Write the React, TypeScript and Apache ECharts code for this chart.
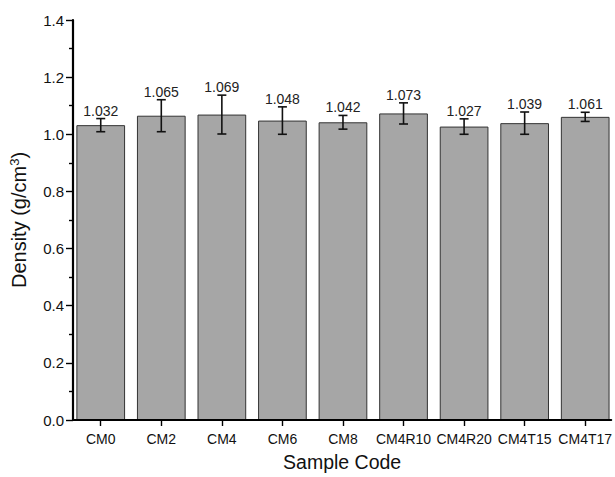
import React, { useEffect, useRef } from "react";
import * as echarts from "echarts";

const categories = ["CM0", "CM2", "CM4", "CM6", "CM8", "CM4R10", "CM4R20", "CM4T15", "CM4T17"];
const densities = [1.032, 1.065, 1.069, 1.048, 1.042, 1.073, 1.027, 1.039, 1.061];
const errors = [0.023, 0.056, 0.068, 0.048, 0.024, 0.037, 0.027, 0.039, 0.016];
const yTicks = [0, 0.2, 0.4, 0.6, 0.8, 1.0, 1.2, 1.4];

const FONT = "Liberation Sans, Arial, Helvetica, sans-serif";

export default function App() {
  const ref = useRef<HTMLDivElement>(null);
  useEffect(() => {
    if (!ref.current) return;
    const chart = echarts.init(ref.current, null, { renderer: "svg" });
    const idx = categories.map((_, i) => i);
    chart.setOption({
      animation: false,
      backgroundColor: "#ffffff",
      grid: { left: 72, right: 0, top: 20, bottom: 54.3, containLabel: false },
      xAxis: {
        type: "value",
        min: -0.458,
        max: 8.43,
        z: 10,
        name: "Sample Code",
        nameLocation: "middle",
        nameGap: 32,
        nameTextStyle: { fontFamily: FONT, fontSize: 19.5, color: "#111" },
        axisLine: { show: true, onZero: false, lineStyle: { color: "#000", width: 2 } },
        axisTick: { show: true, length: 6, inside: false, customValues: idx, lineStyle: { color: "#000", width: 1.4 } },
        axisLabel: {
          show: true,
          customValues: idx,
          margin: 12,
          fontFamily: FONT,
          fontSize: 14,
          color: "#111",
          formatter: (v: number) => categories[Math.round(v)] ?? "",
        },
        splitLine: { show: false },
        minorTick: { show: false },
      },
      yAxis: {
        type: "value",
        min: 0,
        max: 1.4,
        interval: 0.2,
        z: 10,
        name: "Density (g/cm{sup|3})",
        nameLocation: "middle",
        nameGap: 43,
        nameRotate: 90,
        nameTextStyle: {
          fontFamily: FONT,
          fontSize: 20,
          color: "#111",
          rich: { sup: { fontSize: 13, verticalAlign: "top", padding: [0, 0, 9, 0], fontFamily: FONT, color: "#111" } },
        },
        axisLine: { show: true, onZero: false, lineStyle: { color: "#000", width: 2.2 } },
        axisTick: { show: true, length: 7, inside: false, lineStyle: { color: "#000", width: 1.4 } },
        minorTick: { show: true, splitNumber: 2, length: 4, lineStyle: { color: "#000", width: 1.4 } },
        axisLabel: {
          margin: 9,
          fontFamily: FONT,
          fontSize: 15,
          color: "#111",
          customValues: yTicks,
          formatter: (v: number) => v.toFixed(1),
        },
        splitLine: { show: false },
      },
      series: [
        {
          type: "bar",
          data: densities.map((v, i) => [i, v]),
          barWidth: 48.7,
          itemStyle: { color: "#a6a6a6", borderColor: "#333", borderWidth: 1 },
        },
        {
          type: "custom",
          data: densities.map((v, i) => [i, v, errors[i]]),
          z: 10,
          renderItem: (params: any, api: any) => {
            const x = api.value(0);
            const v = api.value(1);
            const e = api.value(2);
            const top = api.coord([x, v + e]);
            const bot = api.coord([x, v - e]);
            const cap = 4.5;
            const ls = { stroke: "#111", lineWidth: 1.6 };
            return {
              type: "group",
              children: [
                { type: "line", shape: { x1: top[0], y1: top[1], x2: bot[0], y2: bot[1] }, style: ls },
                { type: "line", shape: { x1: top[0] - cap, y1: top[1], x2: top[0] + cap, y2: top[1] }, style: ls },
                { type: "line", shape: { x1: bot[0] - cap, y1: bot[1], x2: bot[0] + cap, y2: bot[1] }, style: ls },
                {
                  type: "text",
                  style: {
                    text: v.toFixed(3),
                    x: top[0],
                    y: top[1] - 1,
                    align: "center",
                    verticalAlign: "bottom",
                    fill: "#222",
                    font: `14px ${FONT}`,
                  },
                },
              ],
            };
          },
        },
      ],
    });
    return () => chart.dispose();
  }, []);
  return <div ref={ref} style={{ position: "absolute", left: 0, top: 0, width: 615, height: 477 }} />;
}
